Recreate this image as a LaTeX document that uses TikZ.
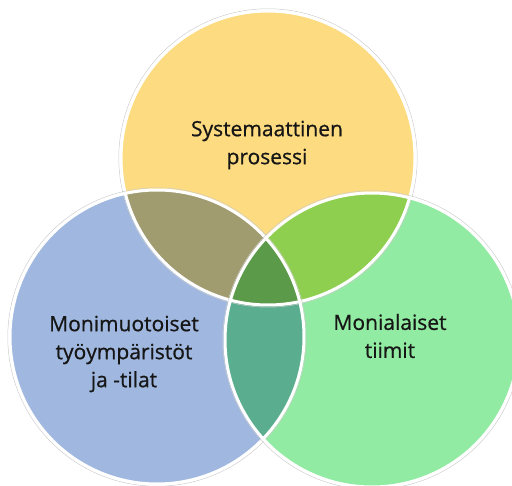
\documentclass[tikz,border=0pt]{standalone}
\usepackage{fontspec}
\setmainfont{Open Sans}
\newfontfamily\labelfont[FakeBold=0.7]{Open Sans}
\definecolor{sysyellow}{HTML}{FDDB80}
\definecolor{tyoblue}{HTML}{A0B8E0}
\definecolor{tiigreen}{HTML}{92EBA2}
\definecolor{olive}{HTML}{A09C70}
\definecolor{lime}{HTML}{8FCF50}
\definecolor{teal}{HTML}{5AAD8E}
\definecolor{deepgreen}{HTML}{5A9A48}
\definecolor{ringgray}{HTML}{CCCCCC}
\definecolor{labeltext}{HTML}{161616}
\begin{document}
\begin{tikzpicture}[x=1pt,y=-1pt]
  \useasboundingbox (0,0) rectangle (512,486);
  % circle centres
  \coordinate (Ysys) at (268,158);
  \coordinate (Btyo) at (157,337);
  \coordinate (Gtii) at (372,340);
  \def\rad{147}

  % plain discs
  \fill[sysyellow] (Ysys) circle (\rad);
  \fill[tyoblue] (Btyo) circle (\rad);
  \fill[tiigreen] (Gtii) circle (\rad);

  % overlaps
  \begin{scope}
    \clip (Ysys) circle (\rad);
    \fill[olive] (Btyo) circle (\rad);
    \fill[lime] (Gtii) circle (\rad);
  \end{scope}
  \begin{scope}
    \clip (Btyo) circle (\rad);
    \fill[teal] (Gtii) circle (\rad);
    \clip (Gtii) circle (\rad);
    \fill[deepgreen] (Ysys) circle (\rad);
  \end{scope}

  % rims
  \foreach \c in {Ysys,Btyo,Gtii} {
    \draw[ringgray, line width=0.5pt] (\c) circle (\rad+2.2);
    \draw[white, line width=3pt] (\c) circle (\rad);
  }

  % labels
  \begin{scope}[every node/.style={align=center,text=labeltext,
      font=\labelfont\fontsize{21}{28}\selectfont}]
    \node (sys) at (267,145) {Systemaattinen\\prosessi};
    \node (tyo) at (124,354) {Monimuotoiset\\työympäristöt\\ja -tilat};
    \node (tii) at (390,336) {Monialaiset\\tiimit};
  \end{scope}
\end{tikzpicture}
\end{document}
